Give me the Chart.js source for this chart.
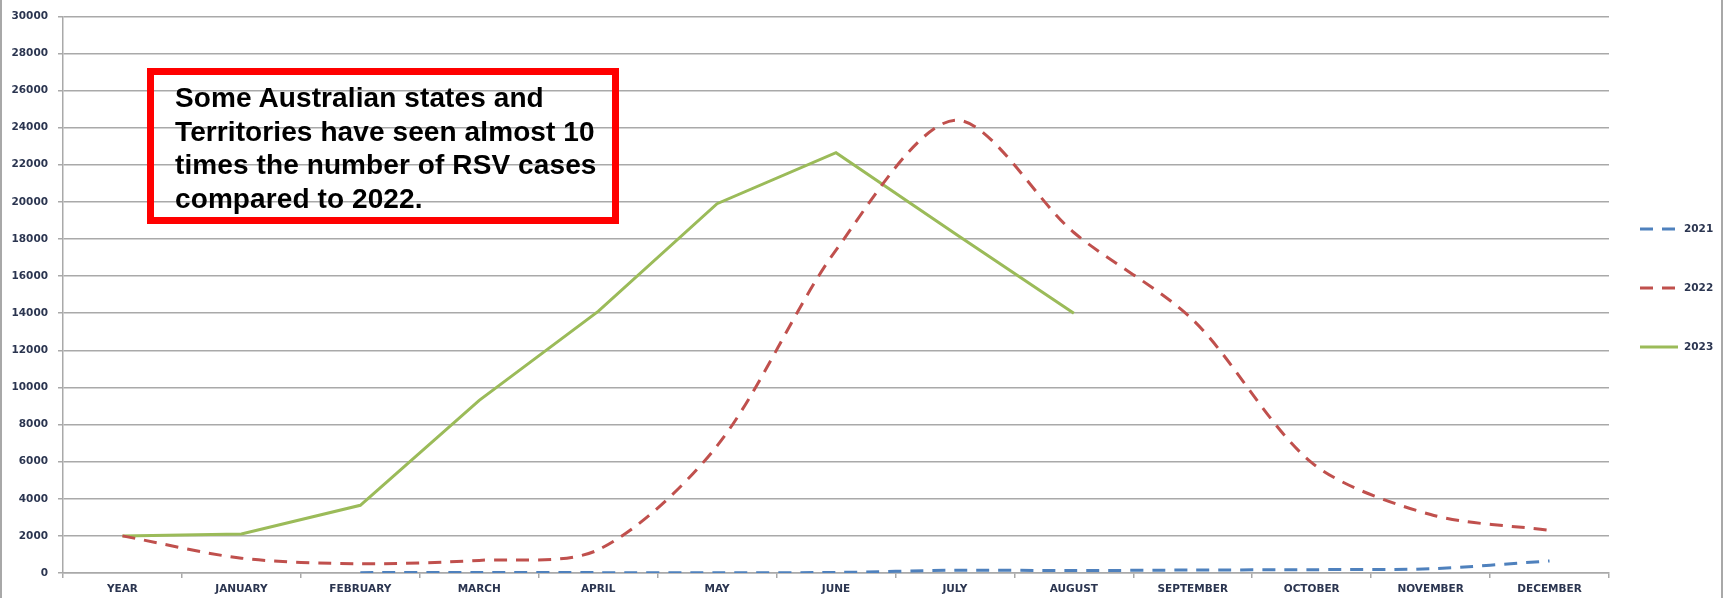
<!DOCTYPE html>
<html>
<head>
<meta charset="utf-8">
<script src="https://cdn.jsdelivr.net/npm/chart.js@4"></script>
<style>
  html, body { margin: 0; padding: 0; background: #ffffff; }
  #wrap { position: relative; width: 1736px; height: 598px; overflow: hidden; }
  #frame { position: absolute; left: 0; top: 0; width: 1723px; height: 598px;
           border-left: 2px solid #a8a8a8; border-right: 2px solid #a8a8a8; box-sizing: border-box; pointer-events: none; }
  #note { position: absolute; left: 147px; top: 68px; width: 472px; height: 156px; box-sizing: border-box;
          border: 7px solid #ff0000; padding: 6px 0 0 21px; white-space: nowrap;
          font-family: "Liberation Sans", Arial, sans-serif; font-weight: bold; font-size: 28px;
          letter-spacing: 0.1px; line-height: 33.5px; color: #000000; }
</style>
</head>
<body>
<div id="wrap">
  <canvas id="chart" width="1736" height="598"></canvas>
  <div id="frame"></div>
  <div id="note">Some Australian states and<br>Territories have seen almost 10<br>times the number of RSV cases<br>compared to 2022.</div>
</div>
<script>
// Monthly RSV notifications
const categories = ['YEAR', 'JANUARY', 'FEBRUARY', 'MARCH', 'APRIL', 'MAY', 'JUNE',
                    'JULY', 'AUGUST', 'SEPTEMBER', 'OCTOBER', 'NOVEMBER', 'DECEMBER'];
const seriesNames = ['2021', '2022', '2023'];
const cases2021 = [null, null, 20, 30, 20, 20, 30, 150, 130, 160, 180, 230, 650];
const cases2022 = [2000, 800, 500, 680, 1250, 6850, 17400, 24400, 18350, 13650, 5950, 3150, 2300];
const cases2023 = [2000, 2100, 3650, 9300, 14100, 19900, 22650, 18300, 14000, null, null, null, null];
const yTicks = { min: 0, max: 30000, step: 2000 };

const textColor = '#2b3550';
const gridColor = '#a9a9a9';
const tickFont = { family: '"DejaVu Sans", sans-serif', size: 10.5, weight: 'bold' };

// Legend drawn as a stacked list on the right of the plot
const sideLegend = {
  id: 'sideLegend',
  afterDraw(chart) {
    const ctx = chart.ctx;
    const x0 = 1640, x1 = 1678, top = 229, gap = 59;
    chart.data.datasets.forEach((ds, i) => {
      const y = top + i * gap;
      ctx.save();
      ctx.strokeStyle = ds.borderColor;
      ctx.lineWidth = 3;
      ctx.setLineDash(ds.borderDash || []);
      ctx.beginPath();
      ctx.moveTo(x0, y);
      ctx.lineTo(x1, y);
      ctx.stroke();
      ctx.setLineDash([]);
      ctx.fillStyle = textColor;
      ctx.font = 'bold 10.5px "DejaVu Sans", sans-serif';
      ctx.textBaseline = 'middle';
      ctx.textAlign = 'left';
      ctx.fillText(ds.label, x1 + 6, y);
      ctx.restore();
    });
  }
};

new Chart(document.getElementById('chart'), {
  type: 'line',
  data: {
    labels: categories,
    datasets: [
      { label: seriesNames[0], data: cases2021, borderColor: '#4f81bd', borderWidth: 3,
        borderDash: [13, 9], tension: 0.3, pointRadius: 0, fill: false },
      { label: seriesNames[1], data: cases2022, borderColor: '#c0504d', borderWidth: 3,
        borderDash: [13, 9], tension: 0.3, pointRadius: 0, fill: false },
      { label: seriesNames[2], data: cases2023, borderColor: '#9bbb59', borderWidth: 3,
        tension: 0, pointRadius: 0, fill: false }
    ]
  },
  options: {
    responsive: false,
    animation: false,
    events: [],
    layout: { padding: { top: 11, right: 127, bottom: 0, left: 0 } },
    plugins: { legend: { display: false }, tooltip: { enabled: false } },
    scales: {
      x: {
        type: 'category',
        offset: true,
        grid: { offset: true, drawOnChartArea: false, drawTicks: true, tickLength: 5, color: gridColor, lineWidth: 1.5 },
        border: { display: true, color: gridColor, width: 1.5 },
        ticks: { color: textColor, font: tickFont, padding: 5, maxRotation: 0, autoSkip: false },
        afterFit(scale) { scale.height = 25; }
      },
      y: {
        min: yTicks.min,
        max: yTicks.max,
        grid: { color: gridColor, lineWidth: 1.5, tickLength: 5 },
        border: { display: true, color: gridColor, width: 1.5 },
        ticks: { stepSize: yTicks.step, color: textColor, font: tickFont, padding: 10,
                 callback: v => String(v) },
        afterFit(scale) { scale.width = 63; }
      }
    }
  },
  plugins: [sideLegend]
});
</script>
</body>
</html>
